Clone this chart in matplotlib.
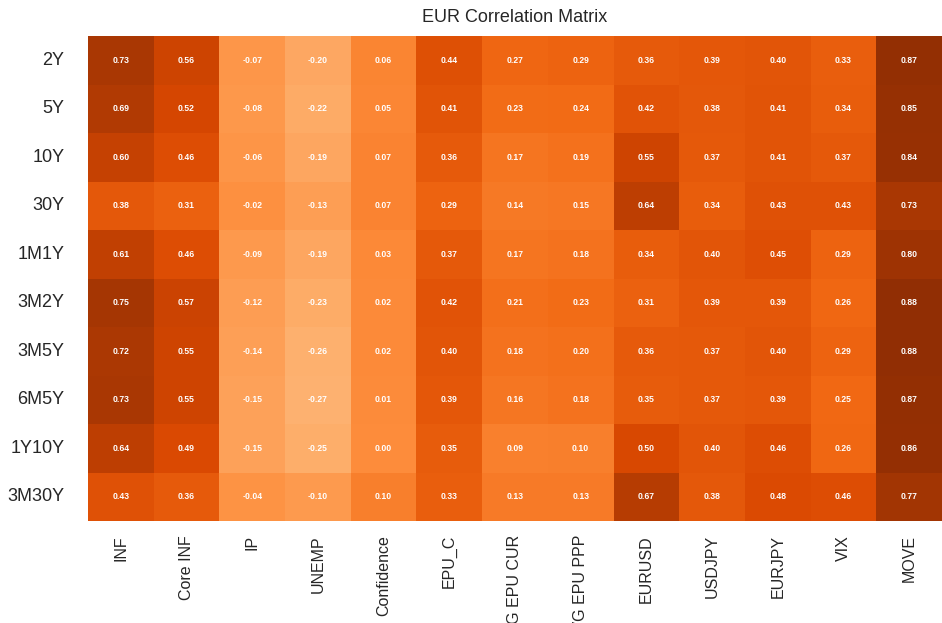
import numpy as np
import pandas as pd
import matplotlib
matplotlib.use("Agg")
import matplotlib.pyplot as plt
import seaborn as sns

rows = ["2Y", "5Y", "10Y", "30Y", "1M1Y", "3M2Y", "3M5Y", "6M5Y", "1Y10Y", "3M30Y"]
cols = ["INF", "Core INF", "IP", "UNEMP", "Confidence", "EPU_C", "AVG EPU CUR",
        "AVG EPU PPP", "EURUSD", "USDJPY", "EURJPY", "VIX", "MOVE"]

r_2y = [0.73, 0.56, -0.07, -0.20, 0.06, 0.44, 0.27, 0.29, 0.36, 0.39, 0.40, 0.33, 0.87]
r_5y = [0.69, 0.52, -0.08, -0.22, 0.05, 0.41, 0.23, 0.24, 0.42, 0.38, 0.41, 0.34, 0.85]
r_10y = [0.60, 0.46, -0.06, -0.19, 0.07, 0.36, 0.17, 0.19, 0.55, 0.37, 0.41, 0.37, 0.84]
r_30y = [0.38, 0.31, -0.02, -0.13, 0.07, 0.29, 0.14, 0.15, 0.64, 0.34, 0.43, 0.43, 0.73]
r_1m1y = [0.61, 0.46, -0.09, -0.19, 0.03, 0.37, 0.17, 0.18, 0.34, 0.40, 0.45, 0.29, 0.80]
r_3m2y = [0.75, 0.57, -0.12, -0.23, 0.02, 0.42, 0.21, 0.23, 0.31, 0.39, 0.39, 0.26, 0.88]
r_3m5y = [0.72, 0.55, -0.14, -0.26, 0.02, 0.40, 0.18, 0.20, 0.36, 0.37, 0.40, 0.29, 0.88]
r_6m5y = [0.73, 0.55, -0.15, -0.27, 0.01, 0.39, 0.16, 0.18, 0.35, 0.37, 0.39, 0.25, 0.87]
r_1y10y = [0.64, 0.49, -0.15, -0.25, 0.00, 0.35, 0.09, 0.10, 0.50, 0.40, 0.46, 0.26, 0.86]
r_3m30y = [0.43, 0.36, -0.04, -0.10, 0.10, 0.33, 0.13, 0.13, 0.67, 0.38, 0.48, 0.46, 0.77]

corr = pd.DataFrame([r_2y, r_5y, r_10y, r_30y, r_1m1y, r_3m2y, r_3m5y, r_6m5y, r_1y10y, r_3m30y],
                    index=rows, columns=cols)

sns.set_theme(style="white")
plt.rcParams['font.family'] = ['Liberation Sans', 'DejaVu Sans']

fig = plt.figure(figsize=(9.42, 6.23), dpi=100)
ax = fig.add_axes([0.0934, 0.1637, 0.9066, 0.7785])
sns.heatmap(corr, cmap="Oranges", vmin=-1, vmax=1, annot=True, fmt=".2f", cbar=False,
            annot_kws={"color": "white", "fontsize": 6.2, "fontweight": "bold"}, ax=ax)
ax.set_title("EUR Correlation Matrix", fontsize=13, pad=10)
ax.tick_params(axis="y", labelsize=13, rotation=0, length=0, pad=17)
ax.tick_params(axis="x", labelsize=11.5, rotation=90, length=0, pad=10)

fig.savefig("out.png", dpi=100)
